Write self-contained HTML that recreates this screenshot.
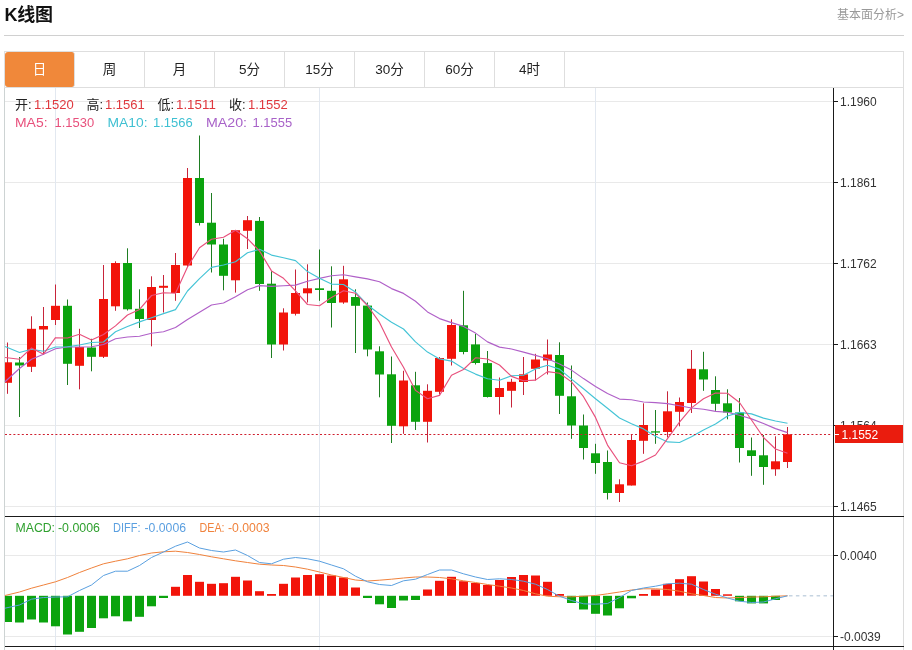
<!DOCTYPE html>
<html lang="zh-CN"><head><meta charset="utf-8"><title>K线图</title>
<style>
html,body{margin:0;padding:0;background:#fff;}
body{width:912px;height:650px;position:relative;overflow:hidden;font-family:"Liberation Sans","Noto Sans CJK SC",sans-serif;color:#222;}
.hd{position:absolute;left:4px;top:0;width:900px;height:35px;border-bottom:1px solid #d0d0d0;}
.hd h2{position:absolute;left:0.5px;top:3px;margin:0;font-size:18px;line-height:24px;font-weight:bold;color:#111;letter-spacing:-0.3px;}
.hd a{position:absolute;right:0;top:5.5px;font-size:12px;line-height:18px;color:#999;text-decoration:none;}
.tabs{position:absolute;left:4px;top:51px;width:898px;height:35px;border:1px solid #dedede;margin:0;padding:0;list-style:none;background:#fff;}
.tabs li{float:left;width:69px;height:35px;line-height:36px;border-right:1px solid #dedede;text-align:center;font-size:13.5px;color:#222;}
.tabs li.on{background:#f0883a;color:#fff;border-radius:3px;}
.chart{position:absolute;left:0;top:0;}
</style></head><body>
<div class="hd"><h2>K线图</h2><a>基本面分析&gt;</a></div>
<ul class="tabs"><li class="on">日</li><li class="">周</li><li class="">月</li><li class="">5分</li><li class="">15分</li><li class="">30分</li><li class="">60分</li><li class="">4时</li></ul>
<svg class="chart" width="912" height="650" viewBox="0 0 912 650">
<defs><clipPath id="cp"><rect x="5" y="88" width="828" height="560"/></clipPath></defs>
<g shape-rendering="crispEdges">
<rect x="5" y="101" width="828" height="1" fill="#e9e9e9"/>
<rect x="5" y="182" width="828" height="1" fill="#e9e9e9"/>
<rect x="5" y="263" width="828" height="1" fill="#e9e9e9"/>
<rect x="5" y="344" width="828" height="1" fill="#e9e9e9"/>
<rect x="5" y="425" width="828" height="1" fill="#e9e9e9"/>
<rect x="5" y="506" width="828" height="1" fill="#e9e9e9"/>
<rect x="5" y="555" width="828" height="1" fill="#e9e9e9"/>
<rect x="5" y="636" width="828" height="1" fill="#e9e9e9"/>
<rect x="55" y="88" width="1" height="562" fill="#e2e8f0"/>
<rect x="319" y="88" width="1" height="562" fill="#e2e8f0"/>
<rect x="595" y="88" width="1" height="562" fill="#e2e8f0"/>
<rect x="4" y="88" width="1" height="562" fill="#cdd3d3"/>
<rect x="903" y="88" width="1" height="562" fill="#dcdcdc"/>
</g>
<g clip-path="url(#cp)" shape-rendering="crispEdges">
<rect x="7" y="342.5" width="1" height="51.3" fill="#c7243a" shape-rendering="auto"/>
<rect x="3" y="362.3" width="9" height="20.5" fill="#f2140a" shape-rendering="auto"/>
<rect x="19" y="357.0" width="1" height="60.0" fill="#1e7d22" shape-rendering="auto"/>
<rect x="15" y="362.5" width="9" height="3.0" fill="#0ba30e" shape-rendering="auto"/>
<rect x="31" y="316.3" width="1" height="55.7" fill="#c7243a" shape-rendering="auto"/>
<rect x="27" y="328.8" width="9" height="38.0" fill="#f2140a" shape-rendering="auto"/>
<rect x="43" y="307.0" width="1" height="47.5" fill="#c7243a" shape-rendering="auto"/>
<rect x="39" y="326.0" width="9" height="3.5" fill="#f2140a" shape-rendering="auto"/>
<rect x="55" y="284.5" width="1" height="40.5" fill="#c7243a" shape-rendering="auto"/>
<rect x="51" y="305.8" width="9" height="14.2" fill="#f2140a" shape-rendering="auto"/>
<rect x="67" y="299.5" width="1" height="85.5" fill="#1e7d22" shape-rendering="auto"/>
<rect x="63" y="305.8" width="9" height="58.0" fill="#0ba30e" shape-rendering="auto"/>
<rect x="79" y="328.8" width="1" height="60.5" fill="#c7243a" shape-rendering="auto"/>
<rect x="75" y="347.0" width="9" height="18.8" fill="#f2140a" shape-rendering="auto"/>
<rect x="91" y="338.8" width="1" height="32.5" fill="#1e7d22" shape-rendering="auto"/>
<rect x="87" y="347.5" width="9" height="9.3" fill="#0ba30e" shape-rendering="auto"/>
<rect x="103" y="265.0" width="1" height="93.0" fill="#c7243a" shape-rendering="auto"/>
<rect x="99" y="299.0" width="9" height="57.8" fill="#f2140a" shape-rendering="auto"/>
<rect x="115" y="261.3" width="1" height="49.5" fill="#c7243a" shape-rendering="auto"/>
<rect x="111" y="263.0" width="9" height="43.3" fill="#f2140a" shape-rendering="auto"/>
<rect x="127" y="248.3" width="1" height="62.2" fill="#1e7d22" shape-rendering="auto"/>
<rect x="123" y="263.0" width="9" height="46.3" fill="#0ba30e" shape-rendering="auto"/>
<rect x="139" y="289.3" width="1" height="38.7" fill="#1e7d22" shape-rendering="auto"/>
<rect x="135" y="308.8" width="9" height="10.2" fill="#0ba30e" shape-rendering="auto"/>
<rect x="151" y="276.3" width="1" height="70.0" fill="#c7243a" shape-rendering="auto"/>
<rect x="147" y="287.0" width="9" height="33.0" fill="#f2140a" shape-rendering="auto"/>
<rect x="163" y="275.0" width="1" height="37.5" fill="#c7243a" shape-rendering="auto"/>
<rect x="159" y="285.8" width="9" height="2.0" fill="#f2140a" shape-rendering="auto"/>
<rect x="175" y="253.0" width="1" height="47.8" fill="#c7243a" shape-rendering="auto"/>
<rect x="171" y="265.0" width="9" height="28.0" fill="#f2140a" shape-rendering="auto"/>
<rect x="187" y="168.0" width="1" height="99.0" fill="#c7243a" shape-rendering="auto"/>
<rect x="183" y="178.0" width="9" height="87.5" fill="#f2140a" shape-rendering="auto"/>
<rect x="199" y="135.5" width="1" height="90.0" fill="#1e7d22" shape-rendering="auto"/>
<rect x="195" y="178.0" width="9" height="45.0" fill="#0ba30e" shape-rendering="auto"/>
<rect x="211" y="193.0" width="1" height="79.5" fill="#1e7d22" shape-rendering="auto"/>
<rect x="207" y="222.7" width="9" height="21.8" fill="#0ba30e" shape-rendering="auto"/>
<rect x="223" y="238.8" width="1" height="51.5" fill="#1e7d22" shape-rendering="auto"/>
<rect x="219" y="244.5" width="9" height="31.3" fill="#0ba30e" shape-rendering="auto"/>
<rect x="235" y="230.0" width="1" height="62.6" fill="#c7243a" shape-rendering="auto"/>
<rect x="231" y="230.2" width="9" height="50.1" fill="#f2140a" shape-rendering="auto"/>
<rect x="247" y="216.0" width="1" height="33.0" fill="#c7243a" shape-rendering="auto"/>
<rect x="243" y="220.2" width="9" height="10.6" fill="#f2140a" shape-rendering="auto"/>
<rect x="259" y="217.0" width="1" height="73.8" fill="#1e7d22" shape-rendering="auto"/>
<rect x="255" y="220.9" width="9" height="63.1" fill="#0ba30e" shape-rendering="auto"/>
<rect x="271" y="271.2" width="1" height="86.8" fill="#1e7d22" shape-rendering="auto"/>
<rect x="267" y="283.7" width="9" height="60.8" fill="#0ba30e" shape-rendering="auto"/>
<rect x="283" y="308.3" width="1" height="42.2" fill="#c7243a" shape-rendering="auto"/>
<rect x="279" y="312.5" width="9" height="32.0" fill="#f2140a" shape-rendering="auto"/>
<rect x="295" y="269.5" width="1" height="46.0" fill="#c7243a" shape-rendering="auto"/>
<rect x="291" y="293.0" width="9" height="20.8" fill="#f2140a" shape-rendering="auto"/>
<rect x="307" y="264.3" width="1" height="38.2" fill="#c7243a" shape-rendering="auto"/>
<rect x="303" y="288.3" width="9" height="5.0" fill="#f2140a" shape-rendering="auto"/>
<rect x="319" y="249.5" width="1" height="51.3" fill="#1e7d22" shape-rendering="auto"/>
<rect x="315" y="288.3" width="9" height="1.7" fill="#0ba30e" shape-rendering="auto"/>
<rect x="331" y="266.3" width="1" height="61.2" fill="#1e7d22" shape-rendering="auto"/>
<rect x="327" y="290.8" width="9" height="12.2" fill="#0ba30e" shape-rendering="auto"/>
<rect x="343" y="265.8" width="1" height="38.0" fill="#c7243a" shape-rendering="auto"/>
<rect x="339" y="279.3" width="9" height="23.2" fill="#f2140a" shape-rendering="auto"/>
<rect x="355" y="289.3" width="1" height="63.7" fill="#1e7d22" shape-rendering="auto"/>
<rect x="351" y="297.0" width="9" height="8.8" fill="#0ba30e" shape-rendering="auto"/>
<rect x="367" y="302.5" width="1" height="53.8" fill="#1e7d22" shape-rendering="auto"/>
<rect x="363" y="305.6" width="9" height="43.9" fill="#0ba30e" shape-rendering="auto"/>
<rect x="379" y="346.3" width="1" height="51.0" fill="#1e7d22" shape-rendering="auto"/>
<rect x="375" y="351.3" width="9" height="23.2" fill="#0ba30e" shape-rendering="auto"/>
<rect x="391" y="356.5" width="1" height="86.5" fill="#1e7d22" shape-rendering="auto"/>
<rect x="387" y="374.3" width="9" height="51.5" fill="#0ba30e" shape-rendering="auto"/>
<rect x="403" y="370.8" width="1" height="63.0" fill="#c7243a" shape-rendering="auto"/>
<rect x="399" y="380.5" width="9" height="45.8" fill="#f2140a" shape-rendering="auto"/>
<rect x="415" y="371.8" width="1" height="58.2" fill="#1e7d22" shape-rendering="auto"/>
<rect x="411" y="385.3" width="9" height="36.5" fill="#0ba30e" shape-rendering="auto"/>
<rect x="427" y="384.3" width="1" height="58.2" fill="#c7243a" shape-rendering="auto"/>
<rect x="423" y="390.8" width="9" height="31.0" fill="#f2140a" shape-rendering="auto"/>
<rect x="439" y="357.0" width="1" height="37.5" fill="#c7243a" shape-rendering="auto"/>
<rect x="435" y="358.0" width="9" height="33.8" fill="#f2140a" shape-rendering="auto"/>
<rect x="451" y="319.3" width="1" height="46.2" fill="#c7243a" shape-rendering="auto"/>
<rect x="447" y="325.0" width="9" height="33.8" fill="#f2140a" shape-rendering="auto"/>
<rect x="463" y="290.8" width="1" height="63.5" fill="#1e7d22" shape-rendering="auto"/>
<rect x="459" y="325.3" width="9" height="26.7" fill="#0ba30e" shape-rendering="auto"/>
<rect x="475" y="333.8" width="1" height="30.7" fill="#1e7d22" shape-rendering="auto"/>
<rect x="471" y="344.4" width="9" height="18.6" fill="#0ba30e" shape-rendering="auto"/>
<rect x="487" y="351.0" width="1" height="46.5" fill="#1e7d22" shape-rendering="auto"/>
<rect x="483" y="363.1" width="9" height="33.9" fill="#0ba30e" shape-rendering="auto"/>
<rect x="499" y="377.5" width="1" height="37.0" fill="#c7243a" shape-rendering="auto"/>
<rect x="495" y="388.0" width="9" height="9.0" fill="#f2140a" shape-rendering="auto"/>
<rect x="511" y="378.8" width="1" height="28.7" fill="#c7243a" shape-rendering="auto"/>
<rect x="507" y="381.8" width="9" height="9.0" fill="#f2140a" shape-rendering="auto"/>
<rect x="523" y="357.0" width="1" height="38.0" fill="#c7243a" shape-rendering="auto"/>
<rect x="519" y="374.3" width="9" height="7.7" fill="#f2140a" shape-rendering="auto"/>
<rect x="535" y="353.8" width="1" height="26.7" fill="#c7243a" shape-rendering="auto"/>
<rect x="531" y="359.5" width="9" height="9.3" fill="#f2140a" shape-rendering="auto"/>
<rect x="547" y="339.5" width="1" height="35.0" fill="#c7243a" shape-rendering="auto"/>
<rect x="543" y="354.5" width="9" height="6.0" fill="#f2140a" shape-rendering="auto"/>
<rect x="559" y="342.3" width="1" height="71.7" fill="#1e7d22" shape-rendering="auto"/>
<rect x="555" y="355.0" width="9" height="40.8" fill="#0ba30e" shape-rendering="auto"/>
<rect x="571" y="365.5" width="1" height="73.3" fill="#1e7d22" shape-rendering="auto"/>
<rect x="567" y="396.3" width="9" height="29.2" fill="#0ba30e" shape-rendering="auto"/>
<rect x="583" y="414.5" width="1" height="45.0" fill="#1e7d22" shape-rendering="auto"/>
<rect x="579" y="425.5" width="9" height="22.5" fill="#0ba30e" shape-rendering="auto"/>
<rect x="595" y="443.8" width="1" height="30.0" fill="#1e7d22" shape-rendering="auto"/>
<rect x="591" y="453.3" width="9" height="9.7" fill="#0ba30e" shape-rendering="auto"/>
<rect x="607" y="450.5" width="1" height="49.0" fill="#1e7d22" shape-rendering="auto"/>
<rect x="603" y="462.0" width="9" height="31.0" fill="#0ba30e" shape-rendering="auto"/>
<rect x="619" y="479.3" width="1" height="22.7" fill="#c7243a" shape-rendering="auto"/>
<rect x="615" y="484.3" width="9" height="8.7" fill="#f2140a" shape-rendering="auto"/>
<rect x="631" y="434.5" width="1" height="51.0" fill="#c7243a" shape-rendering="auto"/>
<rect x="627" y="440.0" width="9" height="45.5" fill="#f2140a" shape-rendering="auto"/>
<rect x="643" y="403.3" width="1" height="50.5" fill="#c7243a" shape-rendering="auto"/>
<rect x="639" y="425.0" width="9" height="15.8" fill="#f2140a" shape-rendering="auto"/>
<rect x="655" y="410.0" width="1" height="33.8" fill="#1e7d22" shape-rendering="auto"/>
<rect x="651" y="431.3" width="9" height="1.3" fill="#0ba30e" shape-rendering="auto"/>
<rect x="667" y="391.3" width="1" height="46.2" fill="#c7243a" shape-rendering="auto"/>
<rect x="663" y="411.3" width="9" height="20.7" fill="#f2140a" shape-rendering="auto"/>
<rect x="679" y="397.5" width="1" height="28.8" fill="#c7243a" shape-rendering="auto"/>
<rect x="675" y="402.0" width="9" height="9.8" fill="#f2140a" shape-rendering="auto"/>
<rect x="691" y="350.0" width="1" height="63.0" fill="#c7243a" shape-rendering="auto"/>
<rect x="687" y="368.8" width="9" height="34.2" fill="#f2140a" shape-rendering="auto"/>
<rect x="703" y="351.8" width="1" height="39.0" fill="#1e7d22" shape-rendering="auto"/>
<rect x="699" y="369.3" width="9" height="10.2" fill="#0ba30e" shape-rendering="auto"/>
<rect x="715" y="376.3" width="1" height="34.5" fill="#1e7d22" shape-rendering="auto"/>
<rect x="711" y="390.0" width="9" height="13.8" fill="#0ba30e" shape-rendering="auto"/>
<rect x="727" y="389.3" width="1" height="30.0" fill="#1e7d22" shape-rendering="auto"/>
<rect x="723" y="403.3" width="9" height="9.2" fill="#0ba30e" shape-rendering="auto"/>
<rect x="739" y="398.0" width="1" height="64.5" fill="#1e7d22" shape-rendering="auto"/>
<rect x="735" y="412.5" width="9" height="35.5" fill="#0ba30e" shape-rendering="auto"/>
<rect x="751" y="437.5" width="1" height="38.3" fill="#1e7d22" shape-rendering="auto"/>
<rect x="747" y="450.3" width="9" height="5.7" fill="#0ba30e" shape-rendering="auto"/>
<rect x="763" y="435.0" width="1" height="49.8" fill="#1e7d22" shape-rendering="auto"/>
<rect x="759" y="455.3" width="9" height="11.7" fill="#0ba30e" shape-rendering="auto"/>
<rect x="775" y="436.3" width="1" height="39.5" fill="#c7243a" shape-rendering="auto"/>
<rect x="771" y="461.3" width="9" height="8.0" fill="#f2140a" shape-rendering="auto"/>
<rect x="787" y="427.0" width="1" height="41.0" fill="#c7243a" shape-rendering="auto"/>
<rect x="783" y="434.3" width="9" height="27.7" fill="#f2140a" shape-rendering="auto"/>
</g>
<polyline fill="none" stroke="#b060c8" stroke-width="1.15" stroke-linejoin="round" points="5.0,381.7 19.5,368.5 31.5,359.3 43.5,354.3 55.5,348.8 67.5,347.0 79.5,347.0 91.5,346.8 103.5,344.5 115.5,338.8 127.5,337.0 139.5,336.2 151.5,333.2 163.5,331.8 175.5,327.5 187.5,319.5 199.5,312.2 211.5,305.0 223.5,303.0 235.5,296.8 247.5,289.7 259.5,285.6 271.5,286.4 283.5,285.7 295.5,285.1 307.5,281.3 319.5,278.4 331.5,275.8 343.5,274.8 355.5,276.9 367.5,278.9 379.5,281.7 391.5,288.6 403.5,293.4 415.5,301.2 427.5,311.9 439.5,318.6 451.5,322.6 463.5,326.4 475.5,333.1 487.5,341.9 499.5,347.1 511.5,349.0 523.5,352.1 535.5,355.4 547.5,358.7 559.5,364.0 571.5,370.1 583.5,378.6 595.5,386.4 607.5,393.6 619.5,399.1 631.5,399.8 643.5,402.0 655.5,402.6 667.5,403.6 679.5,405.8 691.5,408.0 703.5,409.3 715.5,411.4 727.5,412.2 739.5,415.2 751.5,418.9 763.5,423.5 775.5,428.6 787.5,432.6"/>
<polyline fill="none" stroke="#45c4d6" stroke-width="1.15" stroke-linejoin="round" points="5.0,346.5 19.5,352.5 31.5,349.2 43.5,351.2 55.5,347.0 67.5,346.8 79.5,345.0 91.5,342.5 103.5,342.0 115.5,331.8 127.5,326.5 139.5,321.9 151.5,317.7 163.5,313.6 175.5,309.6 187.5,291.0 199.5,278.6 211.5,267.4 223.5,265.0 235.5,261.8 247.5,252.8 259.5,249.3 271.5,255.1 283.5,257.8 295.5,260.6 307.5,271.6 319.5,278.3 331.5,284.1 343.5,284.5 355.5,292.1 367.5,305.0 379.5,314.0 391.5,322.2 403.5,329.0 415.5,341.9 427.5,352.1 439.5,358.9 451.5,361.1 463.5,368.4 475.5,374.1 487.5,378.8 499.5,380.2 511.5,375.8 523.5,375.2 535.5,368.9 547.5,365.3 559.5,369.1 571.5,379.1 583.5,388.7 595.5,398.7 607.5,408.3 619.5,418.0 631.5,423.8 643.5,428.9 655.5,436.2 667.5,441.9 679.5,442.5 691.5,436.8 703.5,429.9 715.5,424.0 727.5,416.0 739.5,412.4 751.5,413.9 763.5,418.1 775.5,421.0 787.5,423.3"/>
<polyline fill="none" stroke="#e8507c" stroke-width="1.15" stroke-linejoin="round" points="5.0,357.5 19.5,359.2 31.5,348.0 43.5,354.2 55.5,337.7 67.5,338.0 79.5,334.3 91.5,339.9 103.5,334.5 115.5,325.9 127.5,315.0 139.5,309.4 151.5,295.5 163.5,292.8 175.5,293.2 187.5,267.0 199.5,247.8 211.5,239.3 223.5,237.3 235.5,230.3 247.5,238.7 259.5,250.9 271.5,270.9 283.5,278.3 295.5,290.8 307.5,304.5 319.5,305.7 331.5,297.4 343.5,290.7 355.5,293.3 367.5,305.5 379.5,322.4 391.5,347.0 403.5,367.2 415.5,390.4 427.5,398.7 439.5,395.4 451.5,375.2 463.5,369.5 475.5,357.8 487.5,359.0 499.5,365.0 511.5,376.4 523.5,380.8 535.5,380.1 547.5,371.6 559.5,373.2 571.5,381.9 583.5,396.7 595.5,417.4 607.5,445.1 619.5,462.8 631.5,465.7 643.5,461.1 655.5,455.0 667.5,438.6 679.5,422.2 691.5,407.9 703.5,398.8 715.5,393.1 727.5,393.3 739.5,402.5 751.5,420.0 763.5,437.5 775.5,449.0 787.5,453.3"/>
<line x1="5" y1="434.5" x2="832" y2="434.5" stroke="#cf1f2f" stroke-width="1" stroke-dasharray="2 2.2"/>
<g clip-path="url(#cp)">
<rect x="3" y="595.8" width="9" height="26.2" fill="#0ba30e"/>
<rect x="15" y="595.8" width="9" height="26.7" fill="#0ba30e"/>
<rect x="27" y="595.8" width="9" height="23.7" fill="#0ba30e"/>
<rect x="39" y="595.8" width="9" height="26.7" fill="#0ba30e"/>
<rect x="51" y="595.8" width="9" height="30.5" fill="#0ba30e"/>
<rect x="63" y="595.8" width="9" height="38.7" fill="#0ba30e"/>
<rect x="75" y="595.8" width="9" height="36.0" fill="#0ba30e"/>
<rect x="87" y="595.8" width="9" height="32.2" fill="#0ba30e"/>
<rect x="99" y="595.8" width="9" height="22.5" fill="#0ba30e"/>
<rect x="111" y="595.8" width="9" height="20.5" fill="#0ba30e"/>
<rect x="123" y="595.8" width="9" height="25.5" fill="#0ba30e"/>
<rect x="135" y="595.8" width="9" height="21.0" fill="#0ba30e"/>
<rect x="147" y="595.8" width="9" height="10.5" fill="#0ba30e"/>
<rect x="159" y="595.8" width="9" height="2.2" fill="#0ba30e"/>
<rect x="171" y="586.8" width="9" height="9.0" fill="#f2140a"/>
<rect x="183" y="575.0" width="9" height="20.8" fill="#f2140a"/>
<rect x="195" y="581.8" width="9" height="14.0" fill="#f2140a"/>
<rect x="207" y="583.8" width="9" height="12.0" fill="#f2140a"/>
<rect x="219" y="583.2" width="9" height="12.5" fill="#f2140a"/>
<rect x="231" y="576.8" width="9" height="19.0" fill="#f2140a"/>
<rect x="243" y="580.5" width="9" height="15.3" fill="#f2140a"/>
<rect x="255" y="591.2" width="9" height="4.5" fill="#f2140a"/>
<rect x="267" y="594.0" width="9" height="1.8" fill="#f2140a"/>
<rect x="279" y="583.8" width="9" height="12.0" fill="#f2140a"/>
<rect x="291" y="577.5" width="9" height="18.3" fill="#f2140a"/>
<rect x="303" y="575.0" width="9" height="20.8" fill="#f2140a"/>
<rect x="315" y="574.2" width="9" height="21.5" fill="#f2140a"/>
<rect x="327" y="575.5" width="9" height="20.3" fill="#f2140a"/>
<rect x="339" y="577.5" width="9" height="18.3" fill="#f2140a"/>
<rect x="351" y="587.5" width="9" height="8.3" fill="#f2140a"/>
<rect x="363" y="595.8" width="9" height="2.2" fill="#0ba30e"/>
<rect x="375" y="595.8" width="9" height="8.5" fill="#0ba30e"/>
<rect x="387" y="595.8" width="9" height="12.2" fill="#0ba30e"/>
<rect x="399" y="595.8" width="9" height="4.7" fill="#0ba30e"/>
<rect x="411" y="595.8" width="9" height="4.2" fill="#0ba30e"/>
<rect x="423" y="589.5" width="9" height="6.3" fill="#f2140a"/>
<rect x="435" y="580.8" width="9" height="15.0" fill="#f2140a"/>
<rect x="447" y="576.8" width="9" height="19.0" fill="#f2140a"/>
<rect x="459" y="581.2" width="9" height="14.5" fill="#f2140a"/>
<rect x="471" y="583.0" width="9" height="12.8" fill="#f2140a"/>
<rect x="483" y="585.0" width="9" height="10.8" fill="#f2140a"/>
<rect x="495" y="580.0" width="9" height="15.8" fill="#f2140a"/>
<rect x="507" y="577.0" width="9" height="18.8" fill="#f2140a"/>
<rect x="519" y="575.0" width="9" height="20.8" fill="#f2140a"/>
<rect x="531" y="575.5" width="9" height="20.3" fill="#f2140a"/>
<rect x="543" y="581.8" width="9" height="14.0" fill="#f2140a"/>
<rect x="555" y="594.0" width="9" height="1.8" fill="#f2140a"/>
<rect x="567" y="595.8" width="9" height="7.2" fill="#0ba30e"/>
<rect x="579" y="595.8" width="9" height="13.7" fill="#0ba30e"/>
<rect x="591" y="595.8" width="9" height="18.0" fill="#0ba30e"/>
<rect x="603" y="595.8" width="9" height="19.7" fill="#0ba30e"/>
<rect x="615" y="595.8" width="9" height="12.5" fill="#0ba30e"/>
<rect x="627" y="595.8" width="9" height="2.5" fill="#0ba30e"/>
<rect x="639" y="594.0" width="9" height="1.8" fill="#f2140a"/>
<rect x="651" y="589.5" width="9" height="6.3" fill="#f2140a"/>
<rect x="663" y="583.8" width="9" height="12.0" fill="#f2140a"/>
<rect x="675" y="579.2" width="9" height="16.5" fill="#f2140a"/>
<rect x="687" y="576.2" width="9" height="19.5" fill="#f2140a"/>
<rect x="699" y="581.5" width="9" height="14.3" fill="#f2140a"/>
<rect x="711" y="589.0" width="9" height="6.8" fill="#f2140a"/>
<rect x="723" y="594.3" width="9" height="1.5" fill="#f2140a"/>
<rect x="735" y="595.8" width="9" height="5.5" fill="#0ba30e"/>
<rect x="747" y="595.8" width="9" height="7.6" fill="#0ba30e"/>
<rect x="759" y="595.8" width="9" height="7.6" fill="#0ba30e"/>
<rect x="771" y="595.8" width="9" height="4.2" fill="#0ba30e"/>
</g>
<g clip-path="url(#cp)">
<polyline fill="none" stroke="#f0823c" stroke-width="1.0" stroke-linejoin="round" points="5.0,595.5 19.5,592.0 31.5,588.2 43.5,585.0 55.5,581.8 67.5,577.5 79.5,572.5 91.5,568.0 103.5,563.8 115.5,561.2 127.5,558.8 139.5,555.5 151.5,553.0 163.5,551.8 175.5,551.2 187.5,552.5 199.5,554.5 211.5,556.8 223.5,558.8 235.5,560.8 247.5,562.5 259.5,564.2 271.5,565.0 283.5,565.5 295.5,567.0 307.5,569.2 319.5,572.0 331.5,575.0 343.5,577.5 355.5,580.0 367.5,581.0 379.5,580.2 391.5,579.2 403.5,578.0 415.5,577.0 427.5,577.0 439.5,577.5 451.5,578.8 463.5,580.8 475.5,582.5 487.5,584.5 499.5,586.2 511.5,588.0 523.5,590.5 535.5,593.8 547.5,596.2 559.5,596.8 571.5,596.8 583.5,596.2 595.5,595.5 607.5,593.8 619.5,592.0 631.5,590.0 643.5,588.8 655.5,588.8 667.5,589.5 679.5,591.2 691.5,593.8 703.5,595.5 715.5,597.5 727.5,598.0 739.5,597.5 751.5,597.0 763.5,596.8 775.5,596.2 787.5,595.8"/>
<polyline fill="none" stroke="#5aa0e0" stroke-width="1.0" stroke-linejoin="round" points="5.0,608.2 19.5,605.0 31.5,599.2 43.5,597.5 55.5,597.0 67.5,596.8 79.5,590.5 91.5,585.0 103.5,575.5 115.5,571.2 127.5,571.2 139.5,565.5 151.5,557.5 163.5,552.0 175.5,546.2 187.5,542.0 199.5,548.0 211.5,550.5 223.5,552.0 235.5,550.0 247.5,555.5 259.5,562.5 271.5,563.8 283.5,559.2 295.5,557.5 307.5,558.8 319.5,561.2 331.5,565.0 343.5,568.8 355.5,576.2 367.5,581.8 379.5,584.5 391.5,585.5 403.5,580.8 415.5,579.2 427.5,574.5 439.5,570.0 451.5,570.0 463.5,573.8 475.5,577.0 487.5,579.5 499.5,578.8 511.5,579.5 523.5,581.2 535.5,584.2 547.5,589.5 559.5,596.2 571.5,600.5 583.5,603.8 595.5,604.2 607.5,603.5 619.5,597.5 631.5,590.5 643.5,588.0 655.5,586.2 667.5,583.8 679.5,583.2 691.5,584.2 703.5,589.5 715.5,594.2 727.5,598.0 739.5,601.2 751.5,602.5 763.5,602.0 775.5,598.8 787.5,595.8"/>
</g>
<line x1="789" y1="595.8" x2="833" y2="595.8" stroke="#c6d4e1" stroke-width="1.6" stroke-dasharray="3.5 3.4"/>
<g shape-rendering="crispEdges" fill="#1a1a1a">
<rect x="833" y="88" width="1" height="562"/>
<rect x="5" y="516" width="899" height="1"/>
<rect x="5" y="646" width="899" height="1"/>
<rect x="834" y="101" width="4" height="1"/>
<rect x="834" y="182" width="4" height="1"/>
<rect x="834" y="263" width="4" height="1"/>
<rect x="834" y="344" width="4" height="1"/>
<rect x="834" y="425" width="4" height="1"/>
<rect x="834" y="506" width="4" height="1"/>
<rect x="834" y="555" width="4" height="1"/>
<rect x="834" y="636" width="4" height="1"/>
</g>
<g font-family="'Liberation Sans',sans-serif" font-size="12" fill="#333">
<text x="840" y="105.5">1.1960</text>
<text x="840" y="186.5">1.1861</text>
<text x="840" y="267.5">1.1762</text>
<text x="840" y="348.5">1.1663</text>
<text x="840" y="429.5">1.1564</text>
<text x="840" y="510.5">1.1465</text>
<text x="840" y="559.5">0.0040</text>
<text x="840" y="640.5">-0.0039</text>
</g>
<rect x="835" y="425" width="68" height="18" fill="#ea1c0e"/>
<rect x="835" y="434" width="4" height="1" fill="#fff"/>
<text x="841.5" y="439" font-family="'Liberation Sans',sans-serif" font-size="12" fill="#fff">1.1552</text>
<g font-family="'Liberation Sans','Noto Sans CJK SC',sans-serif" font-size="13">
<text x="15" y="109" fill="#222">开:</text>
<text x="34" y="109" fill="#e0383e" textLength="39.8" lengthAdjust="spacingAndGlyphs">1.1520</text>
<text x="86.5" y="109" fill="#222">高:</text>
<text x="105" y="109" fill="#e0383e" textLength="39.8" lengthAdjust="spacingAndGlyphs">1.1561</text>
<text x="157.5" y="109" fill="#222">低:</text>
<text x="176" y="109" fill="#e0383e" textLength="39.8" lengthAdjust="spacingAndGlyphs">1.1511</text>
<text x="229" y="109" fill="#222">收:</text>
<text x="248" y="109" fill="#e0383e" textLength="39.8" lengthAdjust="spacingAndGlyphs">1.1552</text>
<text x="15" y="127.2" fill="#e8507c" textLength="32.5" lengthAdjust="spacingAndGlyphs">MA5:</text>
<text x="54.5" y="127.2" fill="#e8507c" textLength="39.7" lengthAdjust="spacingAndGlyphs">1.1530</text>
<text x="107.5" y="127.2" fill="#3fc0d2" textLength="40" lengthAdjust="spacingAndGlyphs">MA10:</text>
<text x="153" y="127.2" fill="#3fc0d2" textLength="39.7" lengthAdjust="spacingAndGlyphs">1.1566</text>
<text x="206" y="127.2" fill="#a862c8" textLength="41" lengthAdjust="spacingAndGlyphs">MA20:</text>
<text x="252.5" y="127.2" fill="#a862c8" textLength="39.7" lengthAdjust="spacingAndGlyphs">1.1555</text>
<text x="15.5" y="532" fill="#2fa02f" textLength="39.5" lengthAdjust="spacingAndGlyphs">MACD:</text>
<text x="58" y="532" fill="#2fa02f" textLength="42" lengthAdjust="spacingAndGlyphs">-0.0006</text>
<text x="113" y="532" fill="#5a9fe0" textLength="27.5" lengthAdjust="spacingAndGlyphs">DIFF:</text>
<text x="144.5" y="532" fill="#5a9fe0" textLength="41.5" lengthAdjust="spacingAndGlyphs">-0.0006</text>
<text x="199.5" y="532" fill="#f0823c" textLength="25" lengthAdjust="spacingAndGlyphs">DEA:</text>
<text x="228" y="532" fill="#f0823c" textLength="41.5" lengthAdjust="spacingAndGlyphs">-0.0003</text>
</g>
</svg>
</body></html>
